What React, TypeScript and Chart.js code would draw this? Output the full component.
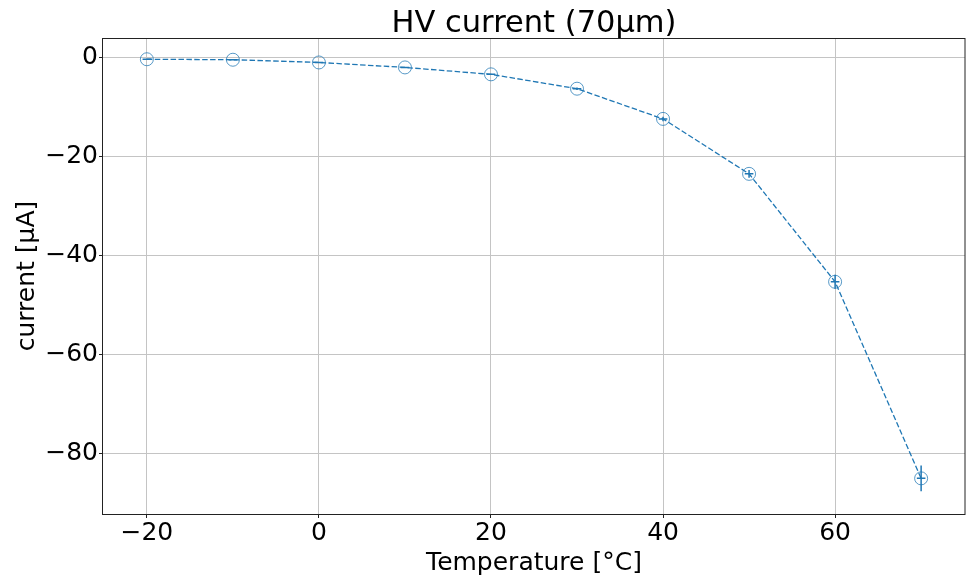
import React, { useEffect, useRef } from "react";
import { Chart, registerables } from "chart.js";

Chart.register(...registerables);

const temperatures = [-20, -10, 0, 10, 20, 30, 40, 50, 60, 70];
const currents = [-0.45, -0.55, -1.1, -2.1, -3.5, -6.4, -12.5, -23.6, -45.4, -85.1];
const tempErrors = [0.5, 0.5, 0.5, 0.5, 0.5, 0.5, 0.5, 0.5, 0.5, 0.5];
const currentErrors = [0.05, 0.05, 0.1, 0.1, 0.15, 0.25, 0.45, 0.8, 1.4, 2.6];
const xTicks = [-20, 0, 20, 40, 60];
const yTicks = [0, -20, -40, -60, -80];

const titleText = "HV current (70µm)";
const xLabel = "Temperature [°C]";
const yLabel = "current [µA]";

const BLUE = "#1f77b4";
const FONT = "'DejaVu Sans', sans-serif";

export default function App() {
  const ref = useRef<HTMLCanvasElement | null>(null);

  useEffect(() => {
    if (!ref.current) return;

    const errorBars = {
      id: "errorBars",
      afterDatasetsDraw(chart: any) {
        const ctx = chart.ctx;
        const xs = chart.scales.x;
        const ys = chart.scales.y;
        ctx.save();
        ctx.strokeStyle = BLUE;
        ctx.lineWidth = 1.5;
        ctx.setLineDash([]);
        for (let i = 0; i < temperatures.length; i++) {
          const t = temperatures[i];
          const c = currents[i];
          const px = xs.getPixelForValue(t);
          const py = ys.getPixelForValue(c);
          ctx.beginPath();
          ctx.moveTo(xs.getPixelForValue(t - tempErrors[i]), py);
          ctx.lineTo(xs.getPixelForValue(t + tempErrors[i]), py);
          ctx.moveTo(px, ys.getPixelForValue(c - currentErrors[i]));
          ctx.lineTo(px, ys.getPixelForValue(c + currentErrors[i]));
          ctx.stroke();
        }
        ctx.restore();
      },
    };

    const frameAndText = {
      id: "frameAndText",
      afterDraw(chart: any) {
        const ctx = chart.ctx;
        const a = chart.chartArea;
        ctx.save();
        ctx.setLineDash([]);
        ctx.strokeStyle = "#222";
        ctx.lineWidth = 1;
        ctx.strokeRect(a.left - 0.5, a.top + 0.5, a.right - a.left + 0.5, a.bottom - a.top);
        ctx.fillStyle = "#000";
        ctx.textAlign = "center";
        ctx.textBaseline = "alphabetic";
        ctx.font = `30.5px ${FONT}`;
        ctx.fillText(titleText, (a.left + a.right) / 2, 32);
        ctx.font = `25px ${FONT}`;
        ctx.fillText(xLabel, (a.left + a.right) / 2, 570);
        ctx.translate(34, (a.top + a.bottom) / 2);
        ctx.rotate(-Math.PI / 2);
        ctx.fillText(yLabel, 0, 0);
        ctx.restore();
      },
    };

    const chart = new Chart(ref.current, {
      type: "line",
      data: {
        datasets: [
          {
            data: temperatures.map((t, i) => ({ x: t, y: currents[i] })),
            borderColor: BLUE,
            borderWidth: 1.3,
            borderDash: [5.5, 2.4],
            fill: false,
            tension: 0,
            pointStyle: "circle",
            pointRadius: 6.5,
            pointBorderWidth: 1,
            pointBorderColor: "rgba(31,119,180,0.75)",
            pointBackgroundColor: "rgba(0,0,0,0)",
          },
        ],
      },
      options: {
        responsive: false,
        animation: false,
        layout: { autoPadding: false, padding: { top: 38, right: 1, left: 0, bottom: 0 } },
        plugins: {
          legend: { display: false },
          title: { display: false },
          tooltip: { enabled: false },
        },
        scales: {
          x: {
            type: "linear",
            min: -25.1,
            max: 75.1,
            afterBuildTicks(scale: any) {
              scale.ticks = xTicks.map((v) => ({ value: v }));
            },
            afterFit(scale: any) {
              scale.height = 66;
              scale.paddingLeft = 0;
              scale.paddingRight = 0;
            },
            grid: {
              color: "#c4c4c4",
              lineWidth: 1,
              drawTicks: true,
              tickLength: 4,
              tickColor: "#222",
              tickWidth: 1,
            },
            border: { display: false },
            ticks: {
              color: "#000",
              font: { family: FONT, size: 25 },
              padding: 0,
              maxRotation: 0,
              callback: (v: any) => (Number(v) < 0 ? "\u2212" + Math.abs(Number(v)) : String(v)),
            },
          },
          y: {
            type: "linear",
            min: -92.3,
            max: 3.84,
            afterBuildTicks(scale: any) {
              scale.ticks = yTicks.map((v) => ({ value: v }));
            },
            afterFit(scale: any) {
              scale.width = 103;
              scale.paddingTop = 0;
              scale.paddingBottom = 0;
            },
            grid: {
              color: "#c4c4c4",
              lineWidth: 1,
              drawTicks: true,
              tickLength: 4,
              tickColor: "#222",
              tickWidth: 1,
            },
            border: { display: false },
            ticks: {
              color: "#000",
              font: { family: FONT, size: 25 },
              padding: 1,
              callback: (v: any) => (Number(v) < 0 ? "\u2212" + Math.abs(Number(v)) : String(v)),
            },
          },
        },
      },
      plugins: [errorBars, frameAndText],
    });

    return () => chart.destroy();
  }, []);

  return (
    <div style={{ position: "fixed", left: 0, top: 0, width: 966, height: 580, background: "#fff" }}>
      <canvas ref={ref} width={966} height={580} style={{ display: "block" }} />
    </div>
  );
}
